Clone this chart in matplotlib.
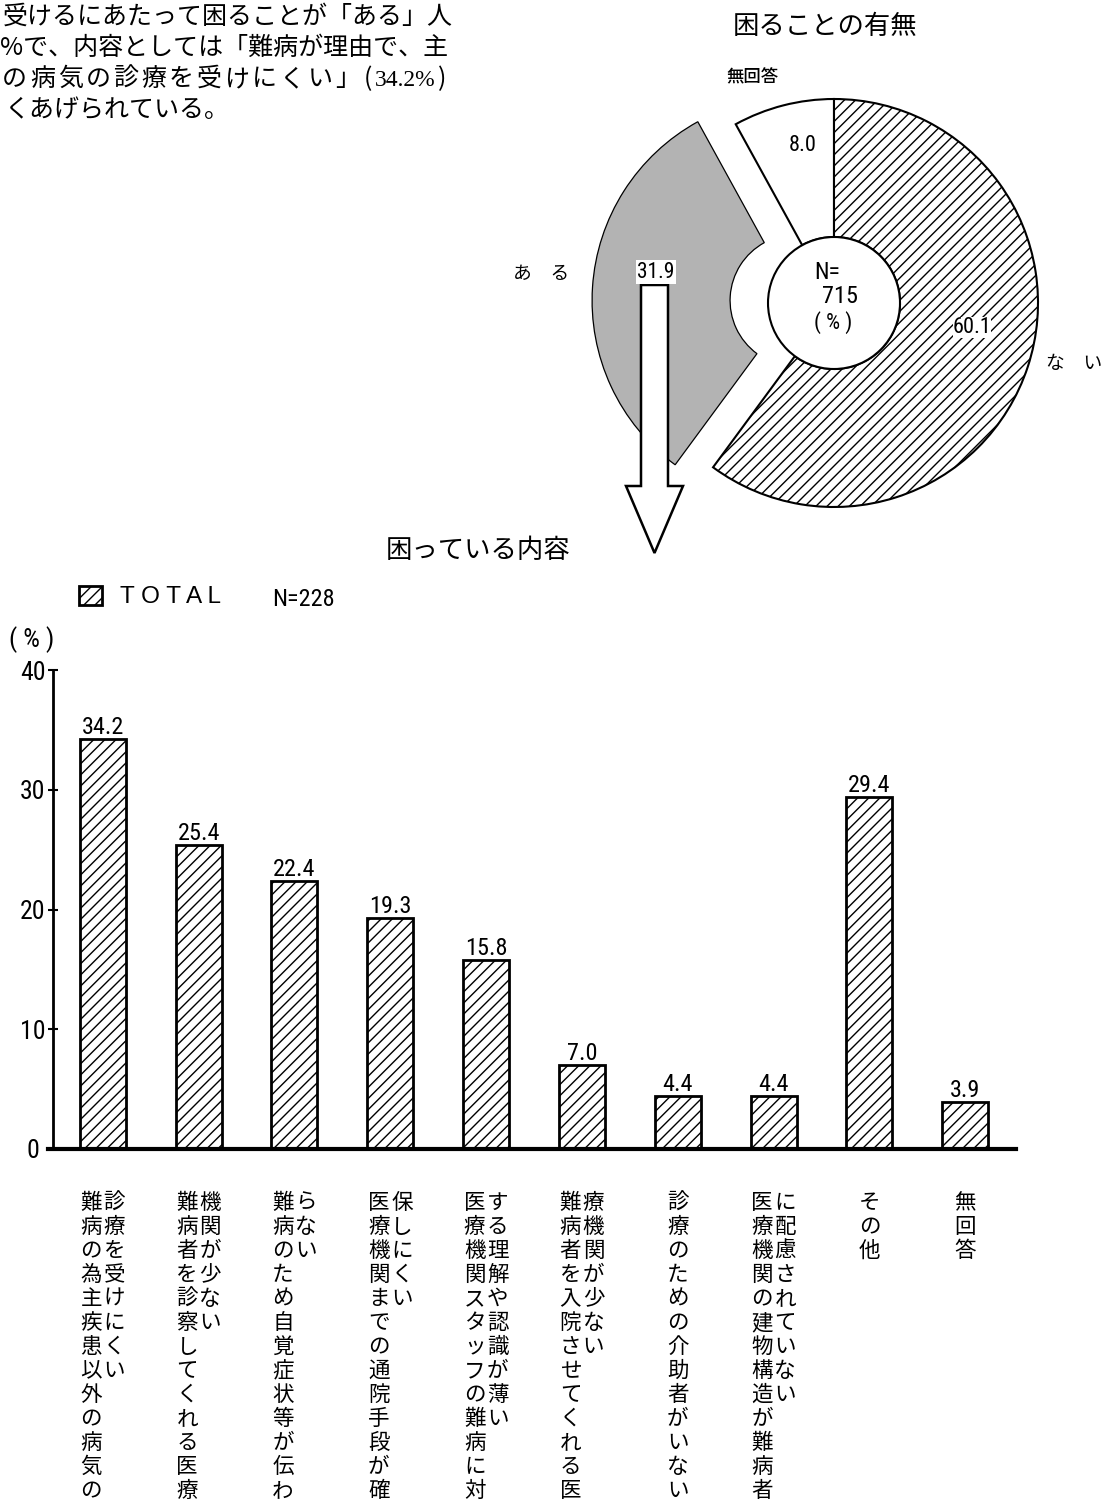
import matplotlib
matplotlib.use("Agg")
import matplotlib.pyplot as plt
from matplotlib import font_manager
from matplotlib.font_manager import FontProperties
from matplotlib.patches import Circle, FancyArrow
import numpy as np

# ---------------------------------------------------------------- data
pie_labels = ["無回答", "あ　る", "な　い"]
pie_values = [8.0, 31.9, 60.1]
pie_n = 715

bar_values = [34.2, 25.4, 22.4, 19.3, 15.8, 7.0, 4.4, 4.4, 29.4, 3.9]
# each category label is written in vertical columns (left column first)
bar_label_cols = [
    ["難病の為主疾患以外の病気の", "診療を受けにくい"],
    ["難病者を診察してくれる医療", "機関が少ない"],
    ["難病のため自覚症状等が伝わ", "らない"],
    ["医療機関までの通院手段が確", "保しにくい"],
    ["医療機関スタッフの難病に対", "する理解や認識が薄い"],
    ["難病者を入院させてくれる医", "療機関が少ない"],
    ["診療のための介助者がいない"],
    ["医療機関の建物構造が難病者", "に配慮されていない"],
    ["その他"],
    ["無回答"],
]
bar_series = "T O T A L"
bar_n = 228
y_ticks = [0, 10, 20, 30, 40]

paragraph = [
    "受けるにあたって困ることが「ある」人",
    "%で、内容としては「難病が理由で、主",
    "の病気の診療を受けにくい」",
    "くあげられている。",
]
para_pct = "34.2%"
pie_title = "困ることの有無"
bar_title = "困っている内容"

# ---------------------------------------------------------------- fonts
JP = "Noto Sans CJK JP"
plt.rcParams["font.family"] = [JP, "DejaVu Sans"]
plt.rcParams["hatch.linewidth"] = 1.0


def narrow_font_path():
    cands = [
        FontProperties(family="Liberation Sans Narrow"),
        FontProperties(family="Roboto Condensed"),
        FontProperties(family="DejaVu Sans", stretch="condensed"),
    ]
    for fp in cands:
        try:
            p = font_manager.findfont(fp, fallback_to_default=False)
            low = p.lower()
            if "narrow" in low or "condensed" in low:
                return p
        except Exception:
            pass
    return font_manager.findfont(FontProperties(family="Roboto"))


NUM_PATH = narrow_font_path()
LAT_PATH = font_manager.findfont(FontProperties(family="Liberation Sans"))
SERIF_PATH = font_manager.findfont(FontProperties(family="Liberation Serif"))


def num(size):
    return FontProperties(fname=NUM_PATH, size=size)


W, H, DPI = 1105, 1502, 100
fig = plt.figure(figsize=(W / DPI, H / DPI), dpi=DPI, facecolor="white")


def fx(x):
    return x / W


def fy(y):
    return 1 - y / H


# ---------------------------------------------------------------- paragraph
para_x = [3, 0, 2, 5]
para_y = [17, 48, 79, 110]
for i, (s, x, y) in enumerate(zip(paragraph, para_x, para_y)):
    if i == 2:
        # justified line: characters spread over the full measure
        for k, ch in enumerate(s):
            fig.text(fx(x + 27.8 * k), fy(y), ch, ha="left", va="center",
                     fontsize=18)
    else:
        fig.text(fx(x), fy(y), s, ha="left", va="center", fontsize=18)
fig.text(fx(368), fy(79), "(", ha="center", va="center", fontsize=18)
fig.text(fx(405), fy(80), para_pct, ha="center", va="center",
         fontproperties=FontProperties(fname=SERIF_PATH, size=17))
fig.text(fx(442), fy(79), ")", ha="center", va="center", fontsize=18)

# ---------------------------------------------------------------- pie
cx, cy, R, r_in, half = 834, 303, 204, 66, 262
axp = fig.add_axes([fx(cx - half), fy(cy + half), 2 * half / W, 2 * half / H])
wedges, _ = axp.pie(
    pie_values,
    startangle=90,
    counterclock=True,
    explode=[0, 38 / R, 0],
    radius=1,
    colors=["white", "#b3b3b3", "white"],
    wedgeprops=dict(width=(R - r_in) / R, edgecolor="black", linewidth=1.5),
)
wedges[1].set_linewidth(0.9)
wedges[2].set_hatch("///")
axp.set_xlim(-half / R, half / R)
axp.set_ylim(-half / R, half / R)
axp.axis("off")
axp.add_patch(Circle((0, 0), r_in / R, facecolor="white", edgecolor="black",
                     linewidth=1.5, zorder=4))


def pd(x, y):
    return (x - cx) / R, (cy - y) / R


axp.text(*pd(752, 77), pie_labels[0], ha="center", va="center", fontsize=12.5,
         fontweight="medium")
axp.text(*pd(541, 273), pie_labels[1], ha="center", va="center", fontsize=13.5)
axp.text(*pd(1074, 363), pie_labels[2], ha="center", va="center", fontsize=13.5)
axp.text(*pd(803, 145), f"{pie_values[0]:.1f}", ha="center", va="center",
         fontproperties=num(16))
axp.text(*pd(972, 327), f"{pie_values[2]:.1f}", ha="center", va="center",
         fontproperties=num(16), zorder=6,
         bbox=dict(boxstyle="square,pad=0", fc="white", ec="none"))
axp.text(*pd(827, 272), "N=", ha="center", va="center", fontproperties=num(17),
         zorder=6)
axp.text(*pd(840, 296), f"{pie_n}", ha="center", va="center",
         fontproperties=num(17.5), zorder=6)
axp.text(*pd(833, 323), "( % )", ha="center", va="center",
         fontproperties=num(16), zorder=6)

# arrow leading from the "ある" slice down to the detail chart
ax0, ay0 = pd(654.5, 285)
_, ay1 = pd(654.5, 553)
axp.add_patch(FancyArrow(ax0, ay0, 0, ay1 - ay0, width=27 / R, head_width=57 / R,
                         head_length=67 / R, length_includes_head=True,
                         facecolor="white", edgecolor="black", linewidth=1.8,
                         zorder=5, clip_on=False))
axp.text(*pd(656, 272), f"{pie_values[1]:.1f}", ha="center", va="center",
         fontproperties=num(15.5), zorder=6,
         bbox=dict(boxstyle="square,pad=0.08", fc="white", ec="none"))

fig.text(fx(825), fy(27), pie_title, ha="center", va="center", fontsize=19)
fig.text(fx(478), fy(551), bar_title, ha="center", va="center", fontsize=19)

# ---------------------------------------------------------------- bar chart
axb = fig.add_axes([fx(53), fy(1149), (1016 - 53) / W, (1149 - 670) / H])
xpos = np.arange(len(bar_values))
bars = axb.bar(xpos, bar_values, width=0.48, color="white", edgecolor="black",
               linewidth=2, hatch="///", label=bar_series)
axb.set_xlim(-0.52, 9.53)
axb.set_ylim(0, 40)
for side in ("top", "right"):
    axb.spines[side].set_visible(False)
axb.spines["left"].set_linewidth(2)
axb.spines["bottom"].set_linewidth(3)
axb.spines["bottom"].set_bounds(-0.57, 9.53)
axb.set_xticks([])
axb.set_yticks(y_ticks)
axb.tick_params(axis="y", direction="inout", length=7, width=1.5, pad=11)
for lab in axb.get_yticklabels():
    lab.set_ha("center")
    lab.set_fontproperties(num(18.5))

for xi, v in zip(xpos, bar_values):
    axb.annotate(f"{v:.1f}", (xi, v), xytext=(0, 5), textcoords="offset pixels",
                 ha="center", va="baseline", fontproperties=num(17.5))

# vertical category labels
pitch, first = 24, 54
for xi, cols in zip(xpos, bar_label_cols):
    n = len(cols)
    offs = [0.0] if n == 1 else [-11.5, 11.5]
    for col, dx in zip(cols, offs):
        for k, ch in enumerate(col):
            axb.annotate(ch, (xi, 0), xytext=(dx, -(first + pitch * k)),
                         textcoords="offset pixels", ha="center", va="center",
                         fontsize=15.5, annotation_clip=False)

fig.text(fx(32), fy(640), "( % )", ha="center", va="center",
         fontproperties=num(19))

leg = axb.legend(handles=[bars], labels=[bar_series], loc="center left",
                 bbox_to_anchor=(fx(79), fy(597)), bbox_transform=fig.transFigure,
                 frameon=False, borderpad=0, borderaxespad=0,
                 prop=FontProperties(fname=LAT_PATH, size=17.5),
                 handlelength=0.95, handleheight=0.83, handletextpad=0.72)
fig.text(fx(272), fy(599), f"N={bar_n}", ha="left", va="center",
         fontproperties=num(17.5))

fig.savefig("out.png", dpi=DPI, facecolor="white")
